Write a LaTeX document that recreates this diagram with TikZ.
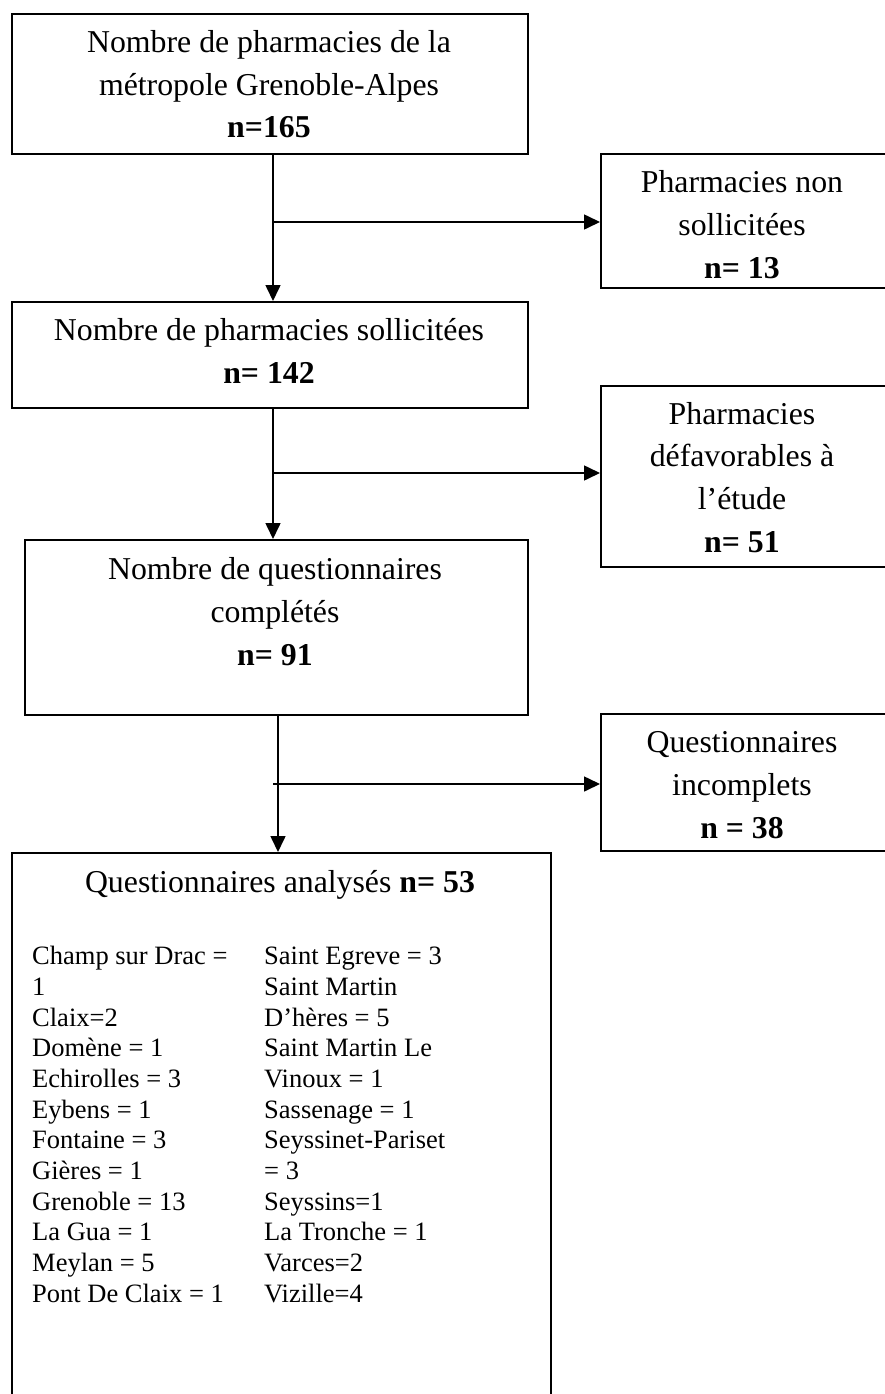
\documentclass[tikz,border=0pt]{standalone}
\usepackage{fontspec}
\setmainfont{Liberation Serif}
\usetikzlibrary{arrows.meta,calc}
\begin{document}
\begin{tikzpicture}[x=1pt,y=-1pt,
  box/.style={draw, line width=1.6pt, rectangle, anchor=north west, inner sep=0pt},
  txt/.style={align=center, inner sep=0pt, anchor=base, font=\fontsize{31.8}{42.6}\selectfont},
  lst/.style={align=left, inner sep=0pt, anchor=base west, font=\fontsize{26.5}{30.65}\selectfont},
  arr/.style={line width=1.6pt, -{Triangle[length=16pt,width=15pt]}}]
\clip (0,0) rectangle (885,1394);
\useasboundingbox (0,0) rectangle (885,1394);
% boxes
\node[box, minimum width=516pt, minimum height=140pt] (b1) at (11,13) {};
\node[box, minimum width=285pt, minimum height=134pt] (r1) at (600,153) {};
\node[box, minimum width=516pt, minimum height=106pt] (b2) at (11,301) {};
\node[box, minimum width=285pt, minimum height=181pt] (r2) at (600,385) {};
\node[box, minimum width=503pt, minimum height=175pt] (b3) at (24,539) {};
\node[box, minimum width=285pt, minimum height=137pt] (r3) at (600,713) {};
\node[box, minimum width=539pt, minimum height=600pt] (b4) at (11,852) {};
% texts (anchored at the baseline of their last line)
\node[txt] (t1) at (269,138) {Nombre de pharmacies de la\\métropole Grenoble-Alpes\\\textbf{n=165}};
\node[txt] (tr1) at (742,278) {Pharmacies non\\sollicitées\\\textbf{n= 13}};
\node[txt] (t2) at (269,383) {Nombre de pharmacies sollicitées\\\textbf{n= 142}};
\node[txt] (tr2) at (742,552) {Pharmacies\\défavorables à\\l’étude\\\textbf{n= 51}};
\node[txt] (t3) at (275,665) {Nombre de questionnaires\\complétés\\\textbf{n= 91}};
\node[txt] (tr3) at (742,838) {Questionnaires\\incomplets\\\textbf{n = 38}};
\node[txt] (t4) at (280,892) {Questionnaires analysés \textbf{n= 53}};
\node[lst] (l1) at (32,1302) {Champ sur Drac =\\1\\Claix=2\\Domène = 1\\Echirolles = 3\\Eybens = 1\\Fontaine = 3\\Gières = 1\\Grenoble = 13\\La Gua = 1\\Meylan = 5\\Pont De Claix = 1};
\node[lst] (l2) at (264,1302) {Saint Egreve = 3\\Saint Martin\\D’hères = 5\\Saint Martin Le\\Vinoux = 1\\Sassenage = 1\\Seyssinet-Pariset\\= 3\\Seyssins=1\\La Tronche = 1\\Varces=2\\Vizille=4};
% connectors
\coordinate (j1) at (273,222);
\coordinate (j2) at (273,473);
\coordinate (j3) at (273,784);
\draw[arr] (b1.south -| j1) -- (b2.north -| j1);
\draw[arr] (j1) -- (j1 -| r1.west);
\draw[arr] (b2.south -| j2) -- (b3.north -| j2);
\draw[arr] (j2) -- (j2 -| r2.west);
\draw[arr] ([xshift=5pt]b3.south -| j3) -- ([xshift=5pt]b4.north -| j3);
\draw[arr] (j3) -- (j3 -| r3.west);
\end{tikzpicture}
\end{document}
